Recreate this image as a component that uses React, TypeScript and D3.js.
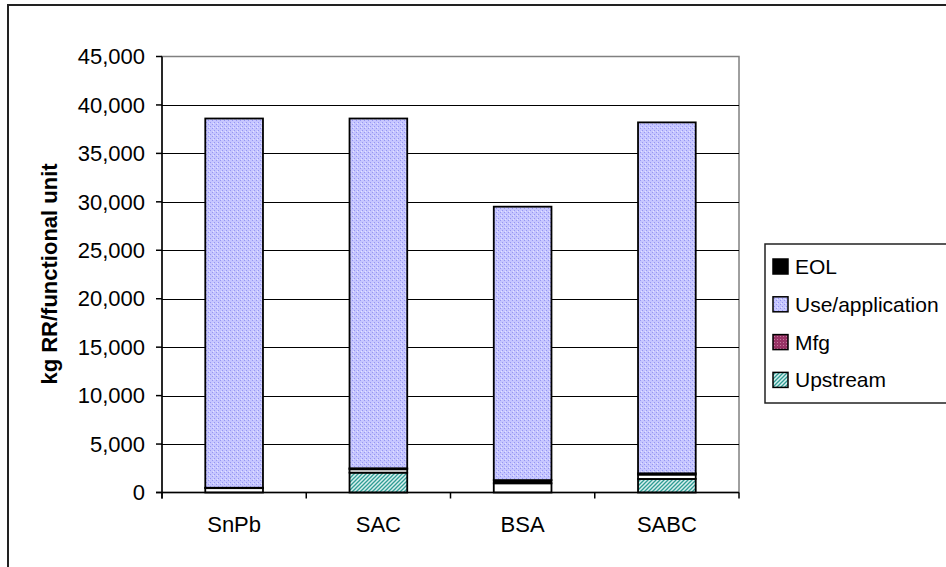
import React from "react";
import * as d3 from "d3";

// Life-cycle resource use per solder alloy, stacked by stage
const categories = ["SnPb", "SAC", "BSA", "SABC"];
const upstream = [0, 2050, 0, 1400];
const mfg = [450, 350, 950, 450];
const eol = [40, 100, 330, 130];
const useApplication = [38110, 36100, 28220, 36220];
const yTicks = [0, 5000, 10000, 15000, 20000, 25000, 30000, 35000, 40000, 45000];

const W = 946;
const H = 567;
const plot = { left: 162, right: 739, top: 56.5, bottom: 492.5 };
const FONT = "'Liberation Sans', Arial, sans-serif";

// stacking order, bottom to top
const stackKeys = ["Upstream", "Mfg", "EOL", "Use/application"];
const seriesValues: Record<string, number[]> = {
  Upstream: upstream,
  Mfg: mfg,
  EOL: eol,
  "Use/application": useApplication,
};
const barFill: Record<string, string> = {
  Upstream: "url(#patUpstream)",
  Mfg: "#ffffff",
  EOL: "#000000",
  "Use/application": "url(#patUse)",
};
// legend order, top to bottom
const legendKeys = ["EOL", "Use/application", "Mfg", "Upstream"];
const legendFill: Record<string, string> = {
  EOL: "#000000",
  "Use/application": "url(#patUse)",
  Mfg: "url(#patMfg)",
  Upstream: "url(#patUpstream)",
};

export default function App() {
  const rows = categories.map((c, i) => {
    const r: Record<string, number | string> = { category: c };
    stackKeys.forEach((k) => (r[k] = seriesValues[k][i]));
    return r;
  });
  const stacked = d3.stack<any>().keys(stackKeys)(rows as any);

  const x = d3.scaleBand<string>().domain(categories).range([plot.left, plot.right]).padding(0);
  const y = d3.scaleLinear().domain([0, 45000]).range([plot.bottom, plot.top]);
  const fmt = d3.format(",");
  const bw = x.bandwidth();
  const barW = bw * 0.4;

  const boundaries = d3.range(categories.length + 1).map((i) => plot.left + i * bw);

  return (
    <svg
      width={W}
      height={H}
      style={{ position: "absolute", left: 0, top: 0, background: "#fff" }}
      fontFamily={FONT}
    >
      <defs>
        <pattern id="patUse" width="4" height="4" patternUnits="userSpaceOnUse">
          <rect width="4" height="4" fill="#c6c6ff" />
          <rect x="0" y="0" width="1" height="1" fill="#9696f2" />
          <rect x="2" y="2" width="1" height="1" fill="#9696f2" />
          <rect x="1" y="3" width="1" height="1" fill="#e4e4ff" />
        </pattern>
        <pattern id="patUpstream" width="4" height="4" patternUnits="userSpaceOnUse">
          <rect width="4" height="4" fill="#d8f0ee" />
          <path d="M-1,1 l2,-2 M0,4 l4,-4 M3,5 l2,-2" stroke="#2f9c94" strokeWidth="1.3" />
        </pattern>
        <pattern id="patMfg" width="3" height="3" patternUnits="userSpaceOnUse">
          <rect width="3" height="3" fill="#993366" />
          <rect x="0" y="0" width="1" height="1" fill="#c27a9c" />
        </pattern>
      </defs>

      {/* chart area frame */}
      <rect x={8} y={5} width={1000} height={1000} fill="#fff" stroke="#222" strokeWidth={2} />

      {/* plot area */}
      <rect
        x={plot.left}
        y={plot.top}
        width={plot.right - plot.left}
        height={plot.bottom - plot.top}
        fill="#fff"
        stroke="#808080"
        strokeWidth={1.5}
      />

      {/* gridlines */}
      {yTicks
        .filter((t) => t > 0 && t < 45000)
        .map((t) => (
          <line
            key={`g${t}`}
            x1={plot.left}
            x2={plot.right}
            y1={Math.round(y(t)) + 0.5}
            y2={Math.round(y(t)) + 0.5}
            stroke="#000"
            strokeWidth={1}
          />
        ))}

      {/* stacked bars */}
      {stacked.map((s) =>
        s.map((d, i) => {
          const cat = categories[i];
          const x0 = (x(cat) as number) + (bw - barW) / 2;
          const y0 = y(d[0]);
          const y1 = y(d[1]);
          return (
            <rect
              key={`${s.key}-${cat}`}
              x={x0}
              y={y1}
              width={barW}
              height={Math.max(0, y0 - y1)}
              fill={barFill[s.key]}
              stroke="#000"
              strokeWidth={1.8}
            />
          );
        })
      )}

      {/* axes */}
      <line x1={plot.left} x2={plot.left} y1={plot.top} y2={plot.bottom + 6} stroke="#000" strokeWidth={1.5} />
      <line x1={plot.left - 6} x2={plot.right} y1={plot.bottom} y2={plot.bottom} stroke="#000" strokeWidth={1.5} />
      {yTicks.map((t) => (
        <g key={`t${t}`}>
          <line x1={plot.left - 6} x2={plot.left} y1={y(t)} y2={y(t)} stroke="#000" strokeWidth={1.5} />
          <text x={145} y={y(t)} dy="0.35em" textAnchor="end" fontSize={22} fill="#000">
            {fmt(t)}
          </text>
        </g>
      ))}
      {boundaries.map((bx, i) => (
        <line key={`c${i}`} x1={bx} x2={bx} y1={plot.bottom} y2={plot.bottom + 6} stroke="#000" strokeWidth={1.5} />
      ))}
      {categories.map((c) => (
        <text
          key={`l${c}`}
          x={(x(c) as number) + bw / 2}
          y={532}
          textAnchor="middle"
          fontSize={22}
          fill="#000"
        >
          {c}
        </text>
      ))}

      {/* y axis title */}
      <text
        transform={`translate(56.5, 274) rotate(-90)`}
        textAnchor="middle"
        fontSize={22}
        fontWeight="bold"
        fill="#000"
      >
        kg RR/functional unit
      </text>

      {/* legend */}
      <rect x={765} y={244} width={200} height={159} fill="#fff" stroke="#222" strokeWidth={1.5} />
      {legendKeys.map((k, i) => {
        const cy = 266.5 + i * 37.8;
        return (
          <g key={`lg${k}`}>
            <rect x={773} y={cy - 7.5} width={15} height={15} fill={legendFill[k]} stroke="#000" strokeWidth={1.5} />
            <text x={795} y={cy} dy="0.36em" fontSize={21} fill="#000">
              {k}
            </text>
          </g>
        );
      })}
    </svg>
  );
}
